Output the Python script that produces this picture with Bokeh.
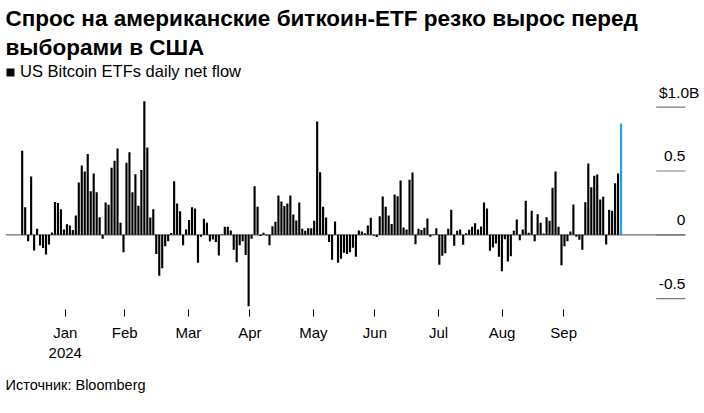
import datetime as dt
from bokeh.plotting import figure
from bokeh.models import (Range1d, FixedTicker, Title, Legend, LegendItem,
                          ColumnDataSource)
from bokeh.embed import file_html
from bokeh.resources import INLINE
from bokeh.core.properties import value

# ---------------- data ----------------
title_line1 = "Спрос на американские биткоин-ETF резко вырос перед"
title_line2 = "выборами в США"
series_name = "US Bitcoin ETFs daily net flow"
source_note = "Источник: Bloomberg"

first_day = "2024-01-11"
last_day = "2024-10-29"

# daily net flow, $ billions, one value per trading day
flows = [
    0.658, 0.217, -0.050, 0.457, -0.123, 0.047, -0.084, -0.104, -0.154, -0.076,
    0.018, 0.258, 0.250, 0.200, 0.042, 0.083, 0.073, 0.037, 0.151, 0.410,
    0.543, 0.496, 0.634, 0.342, 0.480, 0.334, 0.138, -0.031, 0.253, 0.235,
    0.525, 0.580, 0.676, 0.094, -0.136, 0.564, 0.647, 0.334, 0.475, 0.227,
    0.507, 1.047, 0.684, 0.136, 0.200, -0.151, -0.321, -0.261, -0.089, -0.050,
    0.015, 0.420, 0.245, 0.185, -0.081, 0.042, 0.117, 0.217, 0.206, -0.219,
    -0.016, 0.125, 0.094, -0.052, -0.037, -0.057, -0.162, 0.004, 0.063, 0.063,
    0.034, -0.117, -0.214, -0.081, -0.050, -0.159, -0.559, -0.031, 0.381, 0.219,
    -0.010, 0.016, -0.005, -0.081, 0.068, 0.102, 0.308, 0.261, 0.225, 0.245,
    0.308, 0.159, 0.112, 0.253, 0.047, 0.031, 0.052, 0.052, 0.110, 0.888,
    0.491, 0.219, 0.136, -0.057, -0.196, 0.104, -0.219, -0.188, -0.141, -0.151,
    -0.136, -0.102, -0.172, 0.034, 0.026, 0.013, 0.073, 0.133, -0.008, -0.018,
    0.146, 0.300, 0.219, 0.151, 0.084, 0.316, 0.303, 0.426, 0.057, 0.042,
    0.431, 0.488, -0.073, 0.047, 0.037, 0.055, 0.128, -0.016, 0.004, 0.052,
    -0.235, -0.164, -0.144, 0.047, 0.196, -0.086, 0.031, 0.042, -0.078, 0.013,
    0.039, 0.063, 0.091, 0.042, 0.065, 0.253, 0.206, -0.125, -0.099, -0.068,
    -0.172, -0.285, -0.034, -0.209, -0.167, 0.031, 0.120, -0.042, 0.042, 0.266,
    0.016, 0.188, -0.050, 0.162, 0.094, 0.010, 0.138, 0.110, 0.368, 0.496,
    0.063, -0.238, -0.089, -0.050, 0.026, 0.238, -0.016, -0.039, -0.117, 0.256,
    0.559, 0.373, 0.462, 0.473, 0.277, 0.298, -0.076, 0.196, 0.188, 0.405,
    0.480, 0.872,
]

month_labels = ["Jan\n2024", "Feb", "Mar", "Apr", "May", "Jun", "Jul", "Aug", "Sep"]
month_ends = ["2024-02-01", "2024-03-01", "2024-04-01", "2024-05-01", "2024-06-01",
              "2024-07-01", "2024-08-01", "2024-09-01", "2024-10-01"]

y_ticks = [1.0, 0.5, 0.0, -0.5]
y_labels = ["$1.0B", "0.5", "0", "-0.5"]

# ---------------- derived ----------------
n = len(flows)
idx = list(range(n))
bar_colors = ["#000000"] * (n - 1) + ["#1fa5e6"]

d0 = dt.date.fromisoformat(first_day)
d1 = dt.date.fromisoformat(last_day)
span_days = (d1 - d0).days


def date_pos(s):
    return (dt.date.fromisoformat(s) - d0).days / span_days * (n - 1)


tick_pos = [date_pos(s) for s in month_ends]

FONT = "Liberation Sans"

x_lo = -5.6
line_end = n - 1 + 21.6
x_hi = n - 1 + 28.0
seg_start = line_end - 9.8

p = figure(width=704, height=413, output_backend="svg", toolbar_location=None,
           title_location=None, y_axis_location=None,
           x_range=Range1d(x_lo, x_hi), y_range=Range1d(-0.585, 1.35),
           min_border_left=5, min_border_right=0, min_border_top=62,
           min_border_bottom=104, outline_line_color=None)
p.xgrid.visible = False
p.ygrid.visible = False

src = ColumnDataSource(dict(x=idx, flow=flows, c=bar_colors))

# zero line + short grid stubs
p.segment(x0=[x_lo], y0=[0.0], x1=[line_end], y1=[0.0],
          line_color="#6e6e6e", line_width=1.2)
p.segment(x0=[seg_start] * len(y_ticks), y0=y_ticks,
          x1=[line_end] * len(y_ticks), y1=y_ticks,
          line_color="#7a7a7a", line_width=1.2)

r = p.vbar(x="x", top="flow", bottom=0, width=0.72, fill_color="c",
           line_color=None, source=src)

# y labels (right side, above stub lines)
p.text(x=[line_end] * (len(y_ticks) - 1), y=y_ticks[1:], text=y_labels[1:],
       text_align="right", text_baseline="alphabetic", y_offset=-15,
       text_font=value(FONT), text_font_size=value("15.5px"), text_color="#000000")
p.text(x=[line_end], y=y_ticks[:1], text=y_labels[:1],
       text_align="right", text_baseline="alphabetic", y_offset=-15, x_offset=14,
       text_font=value(FONT), text_font_size=value("15.5px"), text_color="#000000")

# x axis
ax = p.xaxis[0]
ax.ticker = FixedTicker(ticks=tick_pos)
ax.major_label_overrides = {t: lab for t, lab in zip(tick_pos, month_labels)}
ax.axis_line_color = None
ax.major_tick_line_color = "#000000"
ax.major_tick_in = 0
ax.major_tick_out = 7
ax.minor_tick_line_color = None
ax.major_label_standoff = 7
ax.major_label_text_font = FONT
ax.major_label_text_font_size = "15px"
ax.major_label_text_color = "#000000"

# legend (inside frame, top-left)
legend = Legend(items=[LegendItem(label=series_name, renderers=[r], index=0)],
                location="top_left", orientation="horizontal",
                glyph_width=10, glyph_height=10, label_standoff=5,
                label_text_font=FONT, label_text_font_size="16.5px",
                label_text_color="#000000",
                border_line_color=None, background_fill_alpha=0,
                padding=0, margin=0, spacing=0)
p.add_layout(legend)

t2 = Title(text=title_line2, align="left", text_font=FONT, text_font_size="22.5px",
           text_font_style="bold", text_color="#000000", standoff=5)
t1 = Title(text=title_line1, align="left", text_font=FONT, text_font_size="22.5px",
           text_font_style="bold", text_color="#000000", standoff=0)
p.add_layout(t2, "above")
p.add_layout(t1, "above")

src_t = Title(text=source_note, align="left", text_font=FONT, text_font_size="14.5px",
              text_font_style="normal", text_color="#000000", standoff=27,
              vertical_align="top")
p.add_layout(src_t, "below")

open("out.html", "w").write(file_html(p, INLINE))
